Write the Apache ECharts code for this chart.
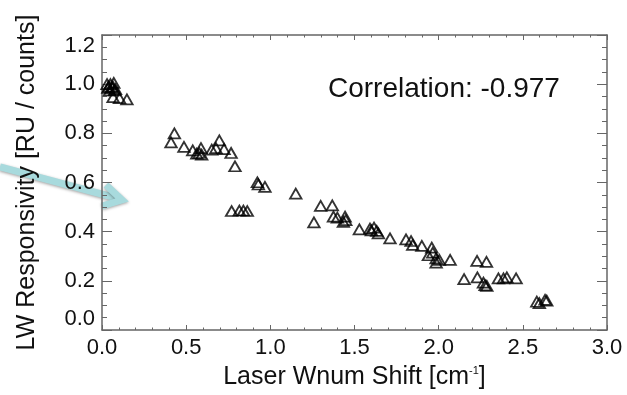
<!DOCTYPE html>
<html>
<head>
<meta charset="utf-8">
<title>LW Responsivity vs Laser Wnum Shift</title>
<script src="https://cdn.jsdelivr.net/npm/echarts@6/dist/echarts.min.js"></script>
<style>
  html, body { margin: 0; padding: 0; background: #ffffff; }
  #chart { width: 627px; height: 395px; }
</style>
</head>
<body>
<div id="chart"></div>
<script>
// Laser wavenumber shift [cm^-1] of each sample
const shiftValues = [
  0.03, 0.04, 0.05, 0.07, 0.035, 0.06, 0.075, 0.045, 0.065, 0.08,
  0.066, 0.104, 0.148,
  0.43, 0.41, 0.487, 0.539, 0.588, 0.578, 0.592, 0.563, 0.652, 0.697, 0.677, 0.725, 0.767, 0.790,
  0.923, 0.929, 0.968, 1.151,
  0.770, 0.816, 0.840, 0.863,
  1.299, 1.368, 1.259, 1.375, 1.398, 1.444, 1.448, 1.434,
  1.529, 1.592, 1.600, 1.616, 1.632, 1.642, 1.711, 1.806, 1.836, 1.846, 1.900,
  1.959, 1.965, 1.939, 1.985, 2.004, 1.985, 2.068,
  2.228, 2.284, 2.151, 2.230, 2.266, 2.276, 2.286, 2.355, 2.385, 2.405, 2.460,
  2.583, 2.598, 2.632, 2.642
];

// LW responsivity [RU / counts] of each sample
const responsivityValues = [
  1.000, 0.990, 1.000, 1.005, 0.985, 0.985, 0.975, 0.975, 0.990, 0.980,
  0.947, 0.943, 0.938,
  0.800, 0.763, 0.745, 0.731, 0.740, 0.720, 0.713, 0.717, 0.734, 0.771, 0.740, 0.736, 0.720, 0.666,
  0.601, 0.592, 0.582, 0.555,
  0.484, 0.486, 0.486, 0.484,
  0.505, 0.507, 0.438, 0.461, 0.457, 0.461, 0.447, 0.440,
  0.409, 0.412, 0.405, 0.416, 0.403, 0.393, 0.373, 0.369, 0.362, 0.346, 0.342,
  0.335, 0.315, 0.304, 0.291, 0.285, 0.274, 0.285,
  0.281, 0.277, 0.207, 0.214, 0.193, 0.182, 0.179, 0.210, 0.210, 0.214, 0.210,
  0.115, 0.109, 0.123, 0.119
];

const correlationText = 'Correlation: -0.977';
const xTitle = 'Laser Wnum Shift [cm{sup|-1}]';
const yTitle = 'LW Responsivity [RU / counts]';

const points = shiftValues.map((x, i) => [x, responsivityValues[i]]);

const FONT = 'Liberation Sans, Arial, Helvetica, sans-serif';
const frameColor = '#666666';

function axisBase(show) {
  return {
    axisLine: { show: true, onZero: false, lineStyle: { color: frameColor, width: 1.5 } },
    splitLine: { show: false },
    axisLabel: { show: show }
  };
}

const xCommon = {
  type: 'value', min: 0, max: 3, interval: 0.5,
  axisTick: { show: true, inside: true, length: 5, lineStyle: { color: frameColor, width: 1 } },
  minorTick: { show: true, splitNumber: 5, length: 2.5, lineStyle: { color: frameColor, width: 1 } }
};
const yCommon = {
  type: 'value', min: 0, max: 1.2, interval: 0.2,
  axisTick: { show: true, inside: true, length: 10, lineStyle: { color: frameColor, width: 1 } },
  minorTick: { show: true, splitNumber: 4, length: 5, lineStyle: { color: frameColor, width: 1 } }
};

const chart = echarts.init(document.getElementById('chart'), null, { renderer: 'canvas' });

chart.setOption({
  backgroundColor: '#ffffff',
  animation: false,
  grid: { left: 102, right: 20, top: 35, bottom: 64 },
  xAxis: [
    Object.assign({}, xCommon, axisBase(true), {
      position: 'bottom',
      axisLabel: {
        show: true, margin: 7, fontSize: 22, fontFamily: FONT, color: '#111',
        formatter: v => v.toFixed(1)
      },
      name: xTitle,
      nameLocation: 'middle',
      nameGap: 35,
      nameTextStyle: {
        fontSize: 25, fontFamily: FONT, color: '#111',
        rich: { sup: { fontSize: 11, fontFamily: FONT, color: '#111', verticalAlign: 'top', padding: [0, 0, 12, 0] } }
      }
    }),
    Object.assign({}, xCommon, axisBase(false), { position: 'top' })
  ],
  yAxis: [
    Object.assign({}, yCommon, axisBase(true), {
      position: 'left',
      axisLabel: {
        show: true, margin: 7, fontSize: 22, fontFamily: FONT, color: '#111',
        formatter: v => v.toFixed(1),
        verticalAlignMaxLabel: 'top',
        verticalAlignMinLabel: 'bottom'
      },
      name: yTitle,
      nameLocation: 'middle',
      nameGap: 62,
      nameTextStyle: { fontSize: 25, fontFamily: FONT, color: '#111' }
    }),
    Object.assign({}, yCommon, axisBase(false), { position: 'right' })
  ],
  series: [{
    type: 'scatter',
    xAxisIndex: 0,
    yAxisIndex: 0,
    data: points,
    symbol: 'triangle',
    symbolSize: [11.5, 10],
    itemStyle: { color: 'rgba(0,0,0,0)', borderColor: '#000', borderWidth: 1.8 },
    z: 3
  }],
  graphic: [
    {
      type: 'text',
      left: 328,
      top: 75,
      z: 10,
      style: { text: correlationText, font: '28px ' + FONT, fill: '#111' }
    },
    // pointer arrow on the left side
    {
      type: 'group',
      z: 100,
      children: [
        {
          type: 'polyline',
          shape: { points: [[0, 167], [120, 199]] },
          style: { stroke: '#a8dadd', lineWidth: 7, lineCap: 'butt',
                   shadowBlur: 3, shadowColor: 'rgba(0,0,0,0.35)', shadowOffsetY: 1 }
        },
        {
          type: 'polyline',
          shape: { points: [[106, 185], [122, 200], [102, 206]] },
          style: { stroke: '#a8dadd', lineWidth: 7, lineJoin: 'miter', lineCap: 'butt',
                   shadowBlur: 3, shadowColor: 'rgba(0,0,0,0.35)', shadowOffsetY: 1 }
        }
      ]
    }
  ]
});
</script>
</body>
</html>
